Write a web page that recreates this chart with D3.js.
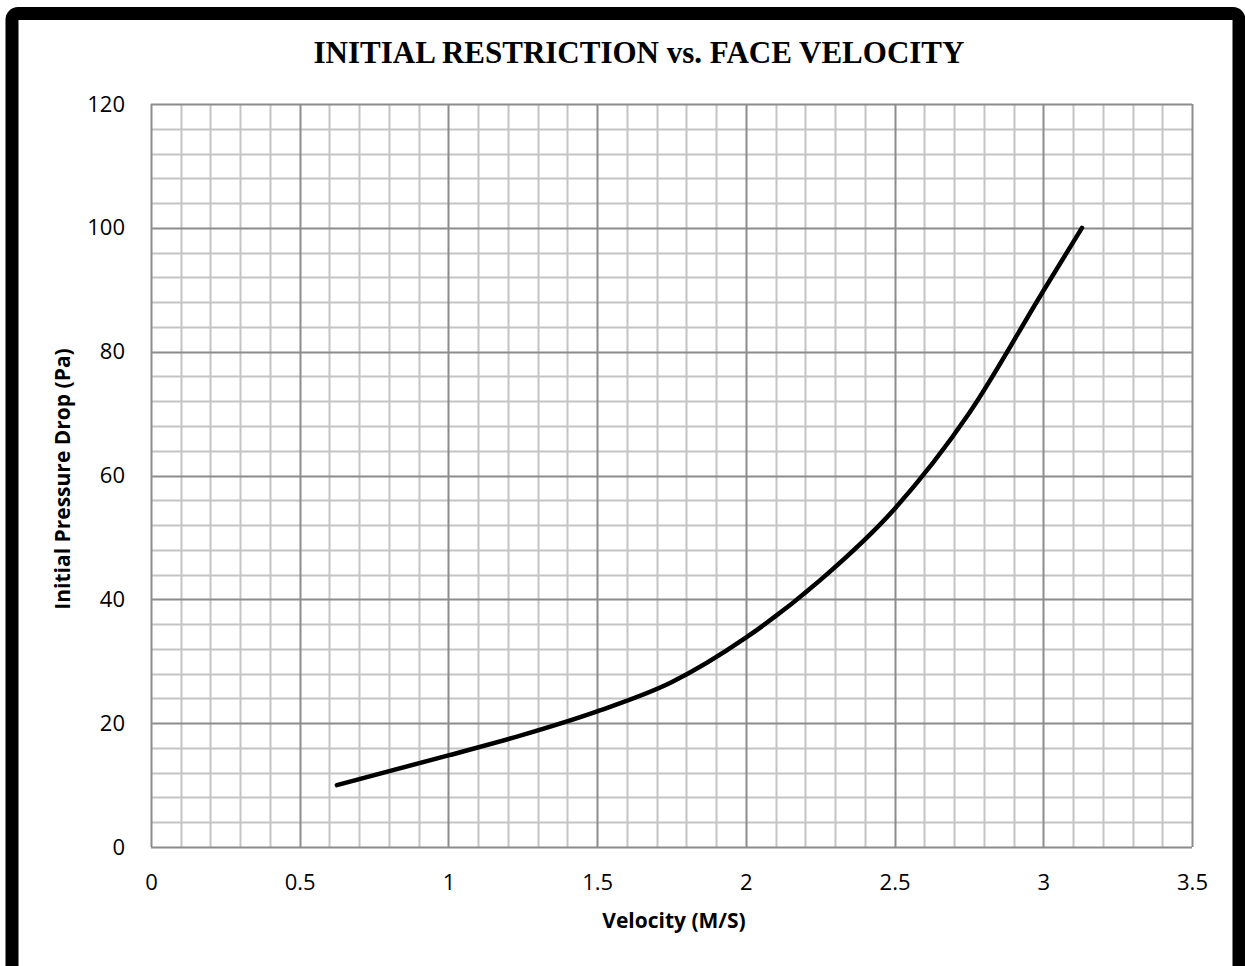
<!DOCTYPE html>
<html>
<head>
<meta charset="utf-8">
<script src="https://cdn.jsdelivr.net/npm/d3@7"></script>
<style>
  body { margin: 0; background: #fff; }
  svg { display: block; }
</style>
</head>
<body>
<div id="chart"></div>
<script>
// values
let velocity = [0.625, 1.0, 1.25, 1.5, 1.75, 2.0, 2.25, 2.5, 2.75, 3.0, 3.13]
let pressure = [10, 14.8, 18.1, 21.9, 26.6, 33.8, 43.1, 54.6, 70.0, 89.8, 100]
let xTicks = [0, 0.5, 1, 1.5, 2, 2.5, 3, 3.5]
let yTicks = [0, 20, 40, 60, 80, 100, 120]

let W = 1245, H = 966
let margin = {left: 151, right: 53, top: 104, bottom: 119}

let svg = d3.select("#chart").append("svg")
    .attr("width", W)
    .attr("height", H)

// thick outer frame
svg.append("rect")
    .attr("x", 12).attr("y", 13.5)
    .attr("width", 1227).attr("height", 970)
    .attr("rx", 6)
    .attr("fill", "none")
    .attr("stroke", "#000")
    .attr("stroke-width", 13)

let x = d3.scaleLinear().domain([0, 3.5]).range([margin.left, W - margin.right])
let y = d3.scaleLinear().domain([0, 120]).range([H - margin.bottom, margin.top])

// minor grid
let minorX = d3.range(0, 36).map(i => i / 10).filter(v => Math.round(v * 10) % 5 != 0)
let minorY = d3.range(0, 31).map(i => i * 4).filter(v => v % 20 != 0)

let grid = svg.append("g")
grid.selectAll(".mx").data(minorX).enter().append("line")
    .attr("x1", d => Math.round(x(d)) + 0.5).attr("x2", d => Math.round(x(d)) + 0.5)
    .attr("y1", y(0)).attr("y2", y(120))
    .attr("stroke", "#c4c4c4").attr("stroke-width", 2)
grid.selectAll(".my").data(minorY).enter().append("line")
    .attr("y1", d => Math.round(y(d)) + 0.5).attr("y2", d => Math.round(y(d)) + 0.5)
    .attr("x1", x(0)).attr("x2", x(3.5))
    .attr("stroke", "#c4c4c4").attr("stroke-width", 2)

// major grid
grid.selectAll(".Mx").data(xTicks).enter().append("line")
    .attr("x1", d => Math.round(x(d)) + 0.5).attr("x2", d => Math.round(x(d)) + 0.5)
    .attr("y1", y(0)).attr("y2", y(120))
    .attr("stroke", "#8c8c8c").attr("stroke-width", 2)
grid.selectAll(".My").data(yTicks).enter().append("line")
    .attr("y1", d => Math.round(y(d)) + 0.5).attr("y2", d => Math.round(y(d)) + 0.5)
    .attr("x1", x(0)).attr("x2", x(3.5))
    .attr("stroke", "#8c8c8c").attr("stroke-width", 2)

// axes (labels only)
let xAxis = svg.append("g")
    .attr("transform", `translate(0,${y(0)})`)
    .call(d3.axisBottom(x).tickValues(xTicks).tickSize(0).tickPadding(27).tickFormat(d3.format("")))
let yAxis = svg.append("g")
    .attr("transform", `translate(${x(0)},0)`)
    .call(d3.axisLeft(y).tickValues(yTicks).tickSize(0).tickPadding(26))
svg.selectAll(".domain").remove()
svg.selectAll(".tick text")
    .attr("font-family", "'Open Sans', sans-serif")
    .attr("font-size", 22)
    .attr("fill", "#000")

// curve
let line = d3.line()
    .x((d, i) => x(velocity[i]))
    .y(d => y(d))
    .curve(d3.curveMonotoneX)

svg.append("path")
    .datum(pressure)
    .attr("d", line)
    .attr("fill", "none")
    .attr("stroke", "#000")
    .attr("stroke-width", 4.5)
    .attr("stroke-linecap", "round")

// titles
svg.append("text")
    .attr("x", 639).attr("y", 63)
    .attr("text-anchor", "middle")
    .attr("font-family", "'Liberation Serif', 'Times New Roman', serif")
    .attr("font-weight", "bold")
    .attr("font-size", 31)
    .text("INITIAL RESTRICTION vs. FACE VELOCITY")

svg.append("text")
    .attr("x", 674).attr("y", 928)
    .attr("text-anchor", "middle")
    .attr("font-family", "'Open Sans', sans-serif")
    .attr("font-weight", "bold")
    .attr("font-size", 21)
    .text("Velocity (M/S)")

svg.append("text")
    .attr("transform", "translate(70,479) rotate(-90)")
    .attr("text-anchor", "middle")
    .attr("font-family", "'Open Sans', sans-serif")
    .attr("font-weight", "bold")
    .attr("font-size", 21)
    .text("Initial Pressure Drop (Pa)")
</script>
</body>
</html>
